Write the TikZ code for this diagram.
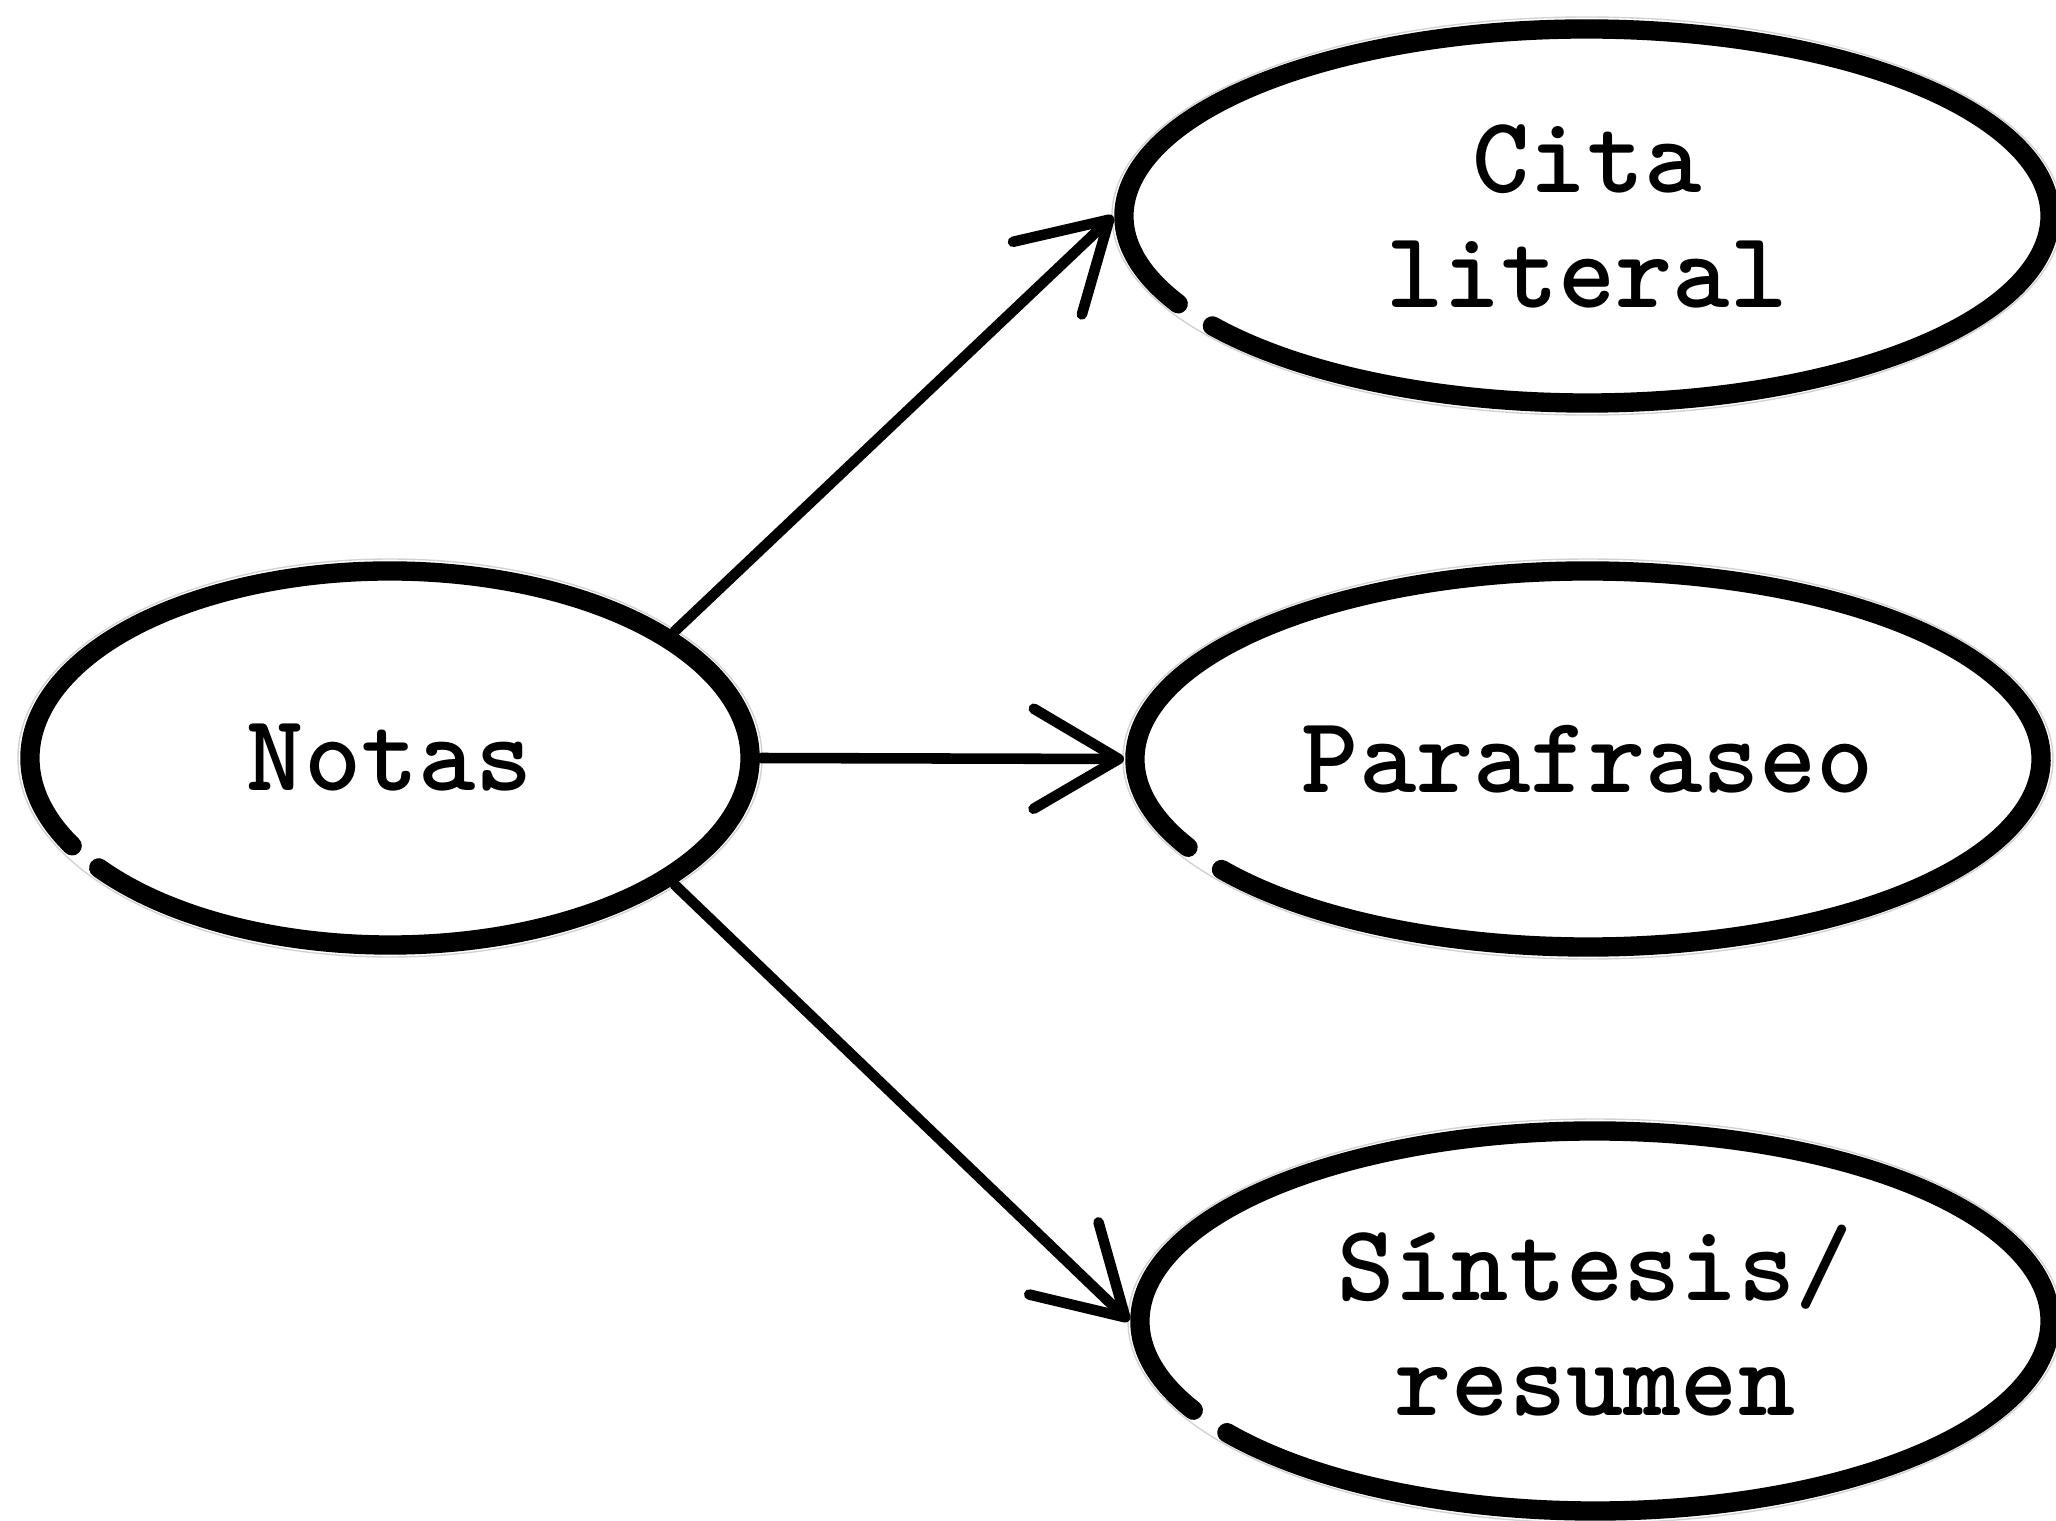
\documentclass[tikz,border=0pt]{standalone}
\usetikzlibrary{
    arrows.meta,
    shapes.geometric % ellipse nodes
}

\tikzset{
    bubble/.style={ellipse, inner sep=0pt, align=center,
        font=\ttfamily\bfseries\fontsize{31}{32.7}\selectfont},
    rim/.style={line width=5.5pt, line cap=round},
    halo/.style={gray!35, line width=0.4pt},
    link/.style={line width=3pt, line cap=round,
        -{Straight Barb[length=0.85cm, width=1cm, round]}}
}

\begin{document}
\begin{tikzpicture}[x=0.01cm, y=-0.01cm]
    \useasboundingbox (0,0) rectangle (2056,1521);

    \node[bubble, minimum width=7.4cm, minimum height=3.94cm] (notas) at (390,758) {Notas};
    \node[bubble, minimum width=9.46cm, minimum height=3.94cm] (cita) at (1587,216) {Cita\\literal};
    \node[bubble, minimum width=9.26cm, minimum height=3.96cm] (para) at (1588,759) {Parafraseo};
    \node[bubble, minimum width=9.3cm, minimum height=4cm] (sint) at (1595,1321) {Síntesis/\\resumen};

    % hand drawn outlines, open at the lower left
    \foreach \n/\rx/\ry in {notas/360/187, cita/463/187, para/453/188, sint/455/190} {
        \draw[halo] (\n.center) ellipse[x radius=\rx+12, y radius=\ry+12];
        \draw[rim] (\n.center) ++({\rx*cos(152)},{\ry*sin(152)})
            arc[start angle=152, end angle=504, x radius=\rx, y radius=\ry];
    }

    \draw[link] (notas.24) -- (cita.west);
    \draw[link] (notas.east) -- (para.west);
    \draw[link] (notas.-24) -- (sint.west);
\end{tikzpicture}
\end{document}
